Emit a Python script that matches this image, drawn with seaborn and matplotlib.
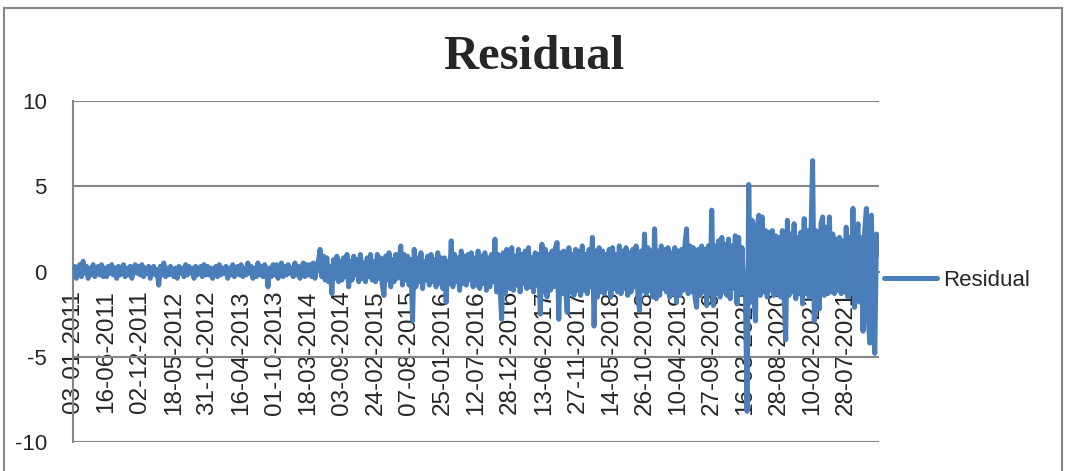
import matplotlib
matplotlib.use("Agg")
import matplotlib.pyplot as plt
from matplotlib.patches import Rectangle
import pandas as pd
import seaborn as sns

# tick labels (one every 20 points)
date_labels = ['03-01-2011', '16-06-2011', '02-12-2011', '18-05-2012', '31-10-2012',
               '16-04-2013', '01-10-2013', '18-03-2014', '03-09-2014', '24-02-2015',
               '07-08-2015', '25-01-2016', '12-07-2016', '28-12-2016', '13-06-2017',
               '27-11-2017', '14-05-2018', '26-10-2018', '10-04-2019', '27-09-2019',
               '16-03-2020', '28-08-2020', '10-02-2021', '28-07-2021']
label_step = 20

# residual values, one row per label interval
residual = [
    -0.2, 0.3, -0.4, 0.1, 0.4, -0.3, 0.6, -0.1, 0.3, -0.4, 0.2, -0.2, 0.4, -0.3, 0.1, 0.3, -0.2, 0.4, -0.3, 0.2,
    -0.3, 0.3, -0.1, 0.4, -0.2, 0.2, -0.4, 0.3, -0.2, 0.1, 0.4, -0.3, 0.2, -0.2, 0.3, -0.4, 0.2, 0.4, -0.1, 0.3,
    -0.2, 0.4, -0.3, 0.2, -0.1, 0.3, -0.4, 0.2, 0.3, -0.2, 0.1, -0.8, 0.3, -0.2, 0.5, -0.3, 0.2, -0.2, 0.3, -0.1,
    -0.3, 0.2, -0.4, 0.3, -0.1, 0.2, -0.3, 0.4, -0.2, 0.3, -0.1, 0.2, -0.4, 0.3, -0.2, 0.1, 0.3, -0.3, 0.4, -0.2,
    0.3, -0.2, 0.2, -0.4, 0.1, 0.3, -0.3, 0.4, -0.2, 0.2, -0.1, 0.3, -0.4, 0.2, -0.2, 0.4, -0.3, 0.1, 0.3, -0.2,
    0.4, -0.3, 0.2, -0.2, 0.5, -0.1, 0.3, -0.4, 0.2, -0.3, 0.5, -0.2, 0.3, -0.3, 0.4, 0.1, -0.9, 0.2, -0.3, 0.4,
    -0.2, 0.4, -0.4, 0.2, 0.5, -0.3, 0.3, -0.2, 0.4, -0.1, 0.2, -0.3, 0.5, -0.2, 0.3, -0.4, 0.2, 0.5, -0.3, 0.4,
    -0.2, 0.4, -0.3, 0.5, -0.4, 0.3, 0.6, 1.3, -0.3, 0.9, -0.5, 0.8, -0.6, 0.3, -1.3, 0.7, -0.4, 0.9, -0.6, 0.6,
    -0.5, 0.8, -0.3, 1.0, -0.9, 0.6, -0.5, 0.9, -0.2, 0.7, -0.6, 1.0, -0.4, 0.5, -0.6, 0.8, -0.3, 1.0, -0.5, 0.6,
    -0.6, 1.0, -0.4, 0.8, -0.8, -1.4, 0.9, -0.5, 1.1, -0.9, 0.7, -0.6, 1.0, -0.4, 0.6, 1.5, -0.8, 1.0, -0.5, 0.9,
    -0.8, 0.7, -2.9, 1.3, -0.9, 0.8, -0.6, 1.1, -1.0, 0.6, -0.5, 0.9, -0.8, 1.0, -0.6, 0.7, -0.9, 1.1, -0.7, 0.8,
    -1.0, 0.8, -1.8, 0.6, -0.7, 1.8, -0.9, 1.0, -0.6, 0.8, -1.1, 1.2, -0.7, 0.9, -0.8, 1.0, -0.5, 1.1, -0.9, 0.8,
    -0.8, 1.2, -1.0, 0.9, -0.7, 1.1, -1.1, 0.8, -0.9, 1.0, -0.6, 1.9, -1.2, 1.0, -0.8, -2.8, 1.1, -1.3, 1.3, -0.9,
    -1.0, 1.4, -1.1, 0.9, -0.8, 1.3, -1.2, 1.0, -0.7, 1.2, -1.0, 1.4, -0.9, 0.8, -1.2, 1.1, -0.8, 1.0, -2.5, 1.6,
    -1.2, 1.3, -1.5, 1.0, -1.1, 1.2, -0.9, 1.4, 1.7, -2.8, 1.1, -1.3, 1.2, -1.0, -2.4, 1.4, -1.2, 1.0, -1.4, 1.3,
    -1.1, 1.2, -1.4, 1.5, -1.1, 1.0, -1.3, 1.3, -0.9, 2.0, -3.2, 1.2, -1.5, 1.4, -1.2, 1.2, -1.3, 1.0, -1.0, 1.3,
    -1.5, 1.4, -1.0, 1.0, -1.2, 1.5, -1.3, 1.2, -1.0, 1.4, -1.4, 1.1, -1.2, 1.3, -0.9, 1.5, -1.3, -2.3, 1.2, -1.1,
    2.2, -1.3, 1.4, -1.1, 1.2, -1.5, 2.5, -1.6, 1.2, -1.4, 1.5, -1.0, 1.3, -1.2, 1.4, -1.5, 1.1, -1.3, 1.4, -1.8,
    1.2, -1.4, 1.3, -1.1, 1.5, 2.5, -1.3, 1.5, -1.2, 1.4, -1.5, -2.1, 1.3, -1.4, 1.5, -1.2, 1.3, -2.0, 1.5, -1.3,
    3.6, -2.0, 1.5, -1.3, 1.8, -1.5, 2.0, -1.2, 1.6, -1.4, 1.9, -1.6, 1.5, -1.0, 2.1, -1.9, 2.0, -1.3, 1.4, -1.2,
    -1.0, -8.2, 5.1, -1.8, 3.0, -1.5, -2.9, 2.6, 3.3, -1.4, 3.2, -1.2, 2.4, -1.5, 2.3, -1.1, 2.4, -1.4, 2.1, -1.3,
    2.0, -1.5, 2.4, -1.3, -4.0, 3.0, -1.4, 2.2, -1.2, 2.8, -1.6, 2.0, -1.3, 2.3, -1.9, 3.1, -1.3, 2.4, -1.5, 2.0,
    6.5, -2.9, 2.4, -1.6, -2.2, 2.8, 3.2, -1.4, 2.6, -1.3, 3.2, -1.2, 2.2, -1.3, 1.9, -1.1, 2.0, -1.3, 1.8, -1.2,
    2.6, -1.5, 2.0, -1.3, 3.7, -2.1, 1.9, 2.8, -1.8, 2.0, -3.5, 2.4, 3.7, -2.5, -4.2, 3.3, -3.0, -4.8, 2.2, 1.0,
]

blue = '#4a7ebb'
grey = '#868686'

sns.set_style("white")
plt.rcParams['font.family'] = ['Liberation Sans', 'DejaVu Sans']
plt.rcParams['axes.unicode_minus'] = False

df = pd.DataFrame({'idx': range(len(residual)), 'Residual': residual})

W, H = 1067, 471
fig = plt.figure(figsize=(W / 100, H / 100), dpi=100)
ax = fig.add_axes([73 / W, 1 - 442 / H, (879 - 73) / W, (442 - 101) / H])

sns.lineplot(data=df, x='idx', y='Residual', ax=ax, color=blue, linewidth=3.6,
             label='Residual', legend=False, zorder=3)
line = ax.lines[0]
line.set_solid_capstyle('round')
line.set_solid_joinstyle('round')

ax.set_xlim(0, len(residual) - 0.5)
ax.set_ylim(-10, 10)
ax.set_yticks([-10, -5, 0, 5, 10])
ax.set_xlabel('')
ax.set_ylabel('')

ax.grid(axis='y', color=grey, linewidth=1.5)
ax.set_axisbelow(True)

for side in ['top', 'right']:
    ax.spines[side].set_visible(False)
ax.spines['bottom'].set_position(('data', 0))
ax.spines['bottom'].set_color(grey)
ax.spines['left'].set_color(grey)
ax.spines['bottom'].set_linewidth(1.5)
ax.spines['left'].set_linewidth(1.5)

ticks = list(range(0, len(residual), label_step))[:len(date_labels)]
ax.set_xticks(ticks)
ax.set_xticklabels(date_labels, rotation=90, fontsize=17.5, va='top', ha='center')
ax.set_xticks(range(len(residual)), minor=True)
ax.tick_params(axis='x', which='both', direction='out', length=6.5, width=1.3,
               color=grey, pad=7)
ax.tick_params(axis='y', direction='out', length=5.8, width=1.5, color=grey,
               labelsize=16, pad=13)

fig.text(0.5, 1 - 57 / H, 'Residual', ha='center', va='center',
         fontsize=35, fontweight='bold', family='Liberation Serif')

handles, labels = ax.get_legend_handles_labels()
fig.legend(handles, labels, loc='center left', bbox_to_anchor=(884 / W, 1 - 280 / H),
           frameon=False, fontsize=16, handlelength=2.4, handletextpad=0.25,
           borderpad=0, borderaxespad=0)

fig.patches.append(Rectangle((4 / W, -0.05), (1062 - 4) / W, 1.05 - 8 / H,
                             transform=fig.transFigure, fill=False,
                             edgecolor=grey, linewidth=1.5))

fig.savefig('out.png', dpi=100)
